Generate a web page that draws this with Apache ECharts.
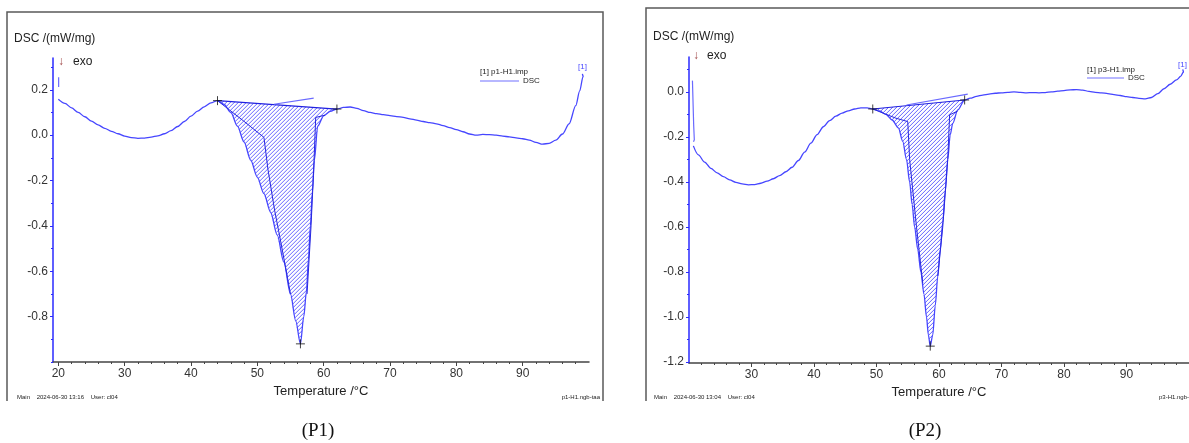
<!DOCTYPE html>
<html><head><meta charset="utf-8">
<script src="https://cdn.jsdelivr.net/npm/echarts@6/dist/echarts.min.js"></script>
<style>html,body{margin:0;padding:0;background:#fff}#c{width:1189px;height:443px}</style>
</head><body><div id="c"></div>
<script>
// ---------------- DATA ----------------
// P1 : DSC curve (Temperature °C, DSC mW/mg)
const p1Curve = [[20.0,0.158],[21,0.140],[22,0.120],[23,0.100],[24,0.081],[25,0.062],[26,0.045],[27,0.030],[28,0.017],[29,0.006],[30,-0.004],[31,-0.011],[32,-0.014],[33,-0.013],[34,-0.009],[35,-0.003],[36,0.006],[37,0.020],[38,0.038],[39,0.060],[40,0.084],[41,0.106],[42,0.125],[43,0.142],[44.0,0.152],[45.0,0.135],[46.0,0.100],[47.0,0.040],[48.0,-0.030],[49.0,-0.110],[50.0,-0.185],[51.0,-0.258],[52.0,-0.340],[53.0,-0.440],[54.0,-0.560],[55.0,-0.700],[55.8,-0.820],[56.5,-0.920],[57.0,-0.800],[57.4,-0.690],[57.7,-0.550],[58.0,-0.400],[58.3,-0.250],[58.6,-0.110],[59.1,0.040],[60.0,0.085],[61.0,0.105],[62.0,0.115],[63,0.122],[64,0.124],[65,0.118],[66,0.108],[67,0.100],[68,0.095],[69,0.090],[70,0.086],[71,0.082],[72,0.078],[73,0.072],[74,0.066],[75,0.060],[76,0.055],[77,0.050],[78,0.042],[79,0.033],[80,0.024],[81,0.015],[82,0.005],[83,0.000],[84,0.003],[85,0.002],[86,0.000],[87,-0.004],[88,-0.008],[89,-0.012],[90,-0.016],[91,-0.022],[92,-0.032],[93,-0.040],[94,-0.036],[95,-0.022],[96,0.005],[97,0.050],[98,0.130],[98.6,0.195],[99.1,0.258],[99.0,0.270]];
const p1StartMark = [[20.05,0.212],[20.05,0.255]];
const p1Onset = [44.0,0.152];
const p1Endset = [62.0,0.115];
const p1Peak = [56.5,-0.920];
const p1InnerLeft = [[44.0,0.152],[47.9,0.063],[51.0,-0.010],[51.6,-0.150],[52.6,-0.330],[53.6,-0.480],[55.0,-0.700]];
const p1InnerRight = [[60.2,0.088],[58.8,0.078],[58.5,-0.150],[58.1,-0.400],[57.5,-0.700]];
const p1Tangent = [[52.5,0.136],[58.5,0.163]];

// P2 : DSC curve
const p2Curve = [[20.7,-0.240],[21.5,-0.280],[22.5,-0.312],[23.5,-0.340],[24.5,-0.360],[25.5,-0.377],[26.5,-0.391],[27.5,-0.402],[28.5,-0.409],[29.5,-0.413],[30.5,-0.412],[31.5,-0.406],[32.5,-0.397],[33.5,-0.386],[34.5,-0.372],[35.5,-0.355],[36.5,-0.335],[37.5,-0.305],[38.5,-0.268],[39.5,-0.228],[40.5,-0.190],[41.5,-0.155],[42.5,-0.128],[43.5,-0.108],[44.5,-0.094],[45.5,-0.084],[46.5,-0.076],[47.5,-0.071],[48.5,-0.071],[49.4,-0.076],[50.5,-0.085],[51.5,-0.100],[52.5,-0.125],[53.5,-0.160],[54.2,-0.220],[54.8,-0.300],[55.3,-0.400],[55.7,-0.500],[56.1,-0.600],[56.6,-0.700],[57.1,-0.800],[57.6,-0.900],[58.0,-1.000],[58.3,-1.080],[58.6,-1.130],[59.0,-1.080],[59.4,-0.950],[59.8,-0.820],[60.2,-0.700],[60.6,-0.580],[61.0,-0.440],[61.4,-0.300],[61.8,-0.190],[62.2,-0.140],[63.0,-0.080],[64.1,-0.036],[65,-0.028],[66,-0.020],[67,-0.014],[68,-0.010],[69,-0.006],[70,-0.004],[71,-0.002],[72,0.000],[73,-0.002],[74,-0.004],[75,-0.003],[76,-0.004],[77,-0.003],[78,0.000],[79,0.003],[80,0.006],[81,0.009],[82,0.010],[83,0.008],[84,0.002],[85,-0.002],[86,-0.004],[87,-0.008],[88,-0.012],[89,-0.016],[90,-0.021],[91,-0.025],[92,-0.029],[93,-0.031],[94,-0.025],[95,-0.008],[96,0.014],[97,0.034],[98,0.053],[98.7,0.070],[99.1,0.088],[99.0,0.100]];
const p2StartMark = [[20.55,0.050],[20.75,-0.150],[20.85,-0.213],[20.72,-0.222]];
const p2Onset = [49.4,-0.076];
const p2Endset = [64.1,-0.036];
const p2Peak = [58.6,-1.130];
const p2InnerLeft = [[49.4,-0.076],[53.1,-0.117],[55.0,-0.132],[55.3,-0.300],[56.4,-0.600],[57.4,-0.850]];
const p2InnerRight = [[63.0,-0.085],[61.7,-0.102],[61.4,-0.300],[60.6,-0.600],[59.8,-0.820]];
const p2Tangent = [[54.8,-0.058],[64.6,-0.010]];

// Tick labels
const p1XTicks = [20,30,40,50,60,70,80,90];
const p1YTicks = [-0.8,-0.6,-0.4,-0.2,0.0,0.2];
const p2XTicks = [30,40,50,60,70,80,90];
const p2YTicks = [-1.2,-1.0,-0.8,-0.6,-0.4,-0.2,0.0];

// ---------------- CHART ----------------
const chart = echarts.init(document.getElementById('c'), null, {renderer:'canvas'});

function minorList(a, b, step) { const r = []; for (let v = a; v <= b + 1e-9; v += step) r.push(Math.round(v*100)/100); return r; }

// "/" hatch segments inside the region between curve and baseline, returned in data units
// (kx, ky: pixels per data unit, so that lines are at 45° on screen), separated by gaps.
function hatchData(poly, kx, ky, step) {
  const pts = poly.map(d => [d[0]*kx, -d[1]*ky]);
  let lo = Infinity, hi = -Infinity;
  pts.forEach(p => { const s = p[0] + p[1]; lo = Math.min(lo, s); hi = Math.max(hi, s); });
  const out = [];
  for (let c = Math.ceil(lo / step) * step; c <= hi; c += step) {
    const xs = [];
    for (let k = 0; k < pts.length; k++) {
      const a = pts[k], b = pts[(k + 1) % pts.length];
      const s1 = a[0] + a[1] - c, s2 = b[0] + b[1] - c;
      if ((s1 < 0) !== (s2 < 0)) {
        const t = s1 / (s1 - s2);
        xs.push([a[0] + t*(b[0]-a[0]), a[1] + t*(b[1]-a[1])]);
      }
    }
    xs.sort((u, v) => u[0] - v[0]);
    for (let k = 0; k + 1 < xs.length; k += 2) {
      out.push([xs[k][0]/kx, -xs[k][1]/ky], [xs[k+1][0]/kx, -xs[k+1][1]/ky], '-');
    }
  }
  return out;
}

const FONT = 'Liberation Sans';
const CURVE = '#4646ff';

const panels = [
  {grid:{left:53, top:58, width:536, height:304}, xmin:19.2, xmax:100, ymin:-1.0, ymax:0.34,
   xt:p1XTicks, yt:p1YTicks, xminor:minorList(20,98,2), yminor:minorList(-1.0,0.3,0.1),
   curve:p1Curve, start:p1StartMark, on:p1Onset, end:p1Endset, pk:p1Peak, il:p1InnerLeft, ir:p1InnerRight, tg:p1Tangent},
  {grid:{left:689, top:57, width:500, height:306}, xmin:20, xmax:100, ymin:-1.205, ymax:0.155,
   xt:p2XTicks, yt:p2YTicks, xminor:minorList(22,98,2), yminor:minorList(-1.2,0.1,0.1),
   curve:p2Curve, start:p2StartMark, on:p2Onset, end:p2Endset, pk:p2Peak, il:p2InnerLeft, ir:p2InnerRight, tg:p2Tangent}
];

const grids = [], xAxes = [], yAxes = [], series = [];
panels.forEach((p, i) => {
  grids.push(p.grid);
  xAxes.push({type:'value', gridIndex:i, min:p.xmin, max:p.xmax, position:'bottom',
    name:'Temperature /°C', nameLocation:'middle', nameGap:17,
    nameTextStyle:{fontFamily:FONT, fontSize:13, color:'#222'},
    axisLine:{show:true, onZero:false, lineStyle:{color:'#444', width:1.5}},
    axisTick:{show:true, inside:false, length:4, customValues:p.xt, lineStyle:{color:'#444'}},
    axisLabel:{show:true, customValues:p.xt, margin:6, fontFamily:FONT, fontSize:12, color:'#333'},
    splitLine:{show:false}});
  xAxes.push({type:'value', gridIndex:i, min:p.xmin, max:p.xmax, position:'bottom',
    axisLine:{show:false, onZero:false}, axisLabel:{show:false}, splitLine:{show:false},
    axisTick:{show:true, length:2, customValues:p.xminor, lineStyle:{color:'#444'}}});
  yAxes.push({type:'value', gridIndex:i, min:p.ymin, max:p.ymax, position:'left',
    axisLine:{show:true, onZero:false, lineStyle:{color:'#2a2aff', width:1.5}},
    axisTick:{show:true, length:3, customValues:p.yt, lineStyle:{color:'#2a2aff'}},
    axisLabel:{show:true, customValues:p.yt, margin:5, fontFamily:FONT, fontSize:12, color:'#333',
      formatter: v => v.toFixed(1)},
    splitLine:{show:false}});
  yAxes.push({type:'value', gridIndex:i, min:p.ymin, max:p.ymax, position:'left',
    axisLine:{show:false, onZero:false}, axisLabel:{show:false}, splitLine:{show:false},
    axisTick:{show:true, length:2, customValues:p.yminor, lineStyle:{color:'#2a2aff'}}});

  const xi = 2*i, yi = 2*i;
  const poly = p.curve.filter(d => d[0] >= p.on[0] - 1e-9 && d[0] <= p.end[0] + 1e-9);
  const kx = p.grid.width / (p.xmax - p.xmin), ky = p.grid.height / (p.ymax - p.ymin);
  series.push({type:'line', xAxisIndex:xi, yAxisIndex:yi, data:hatchData(poly, kx, ky, 4),
    showSymbol:false, connectNulls:false, silent:true, sampling:null,
    lineStyle:{color:'#4848ff', width:0.85}, z:1});
  series.push({type:'line', xAxisIndex:xi, yAxisIndex:yi, data:p.curve, showSymbol:false, smooth:0.3, smoothMonotone:'x',
    lineStyle:{color:CURVE, width:1.3}, z:3});
  series.push({type:'line', xAxisIndex:xi, yAxisIndex:yi, data:p.start, showSymbol:false,
    lineStyle:{color:'#6a6aff', width:1.2}, z:3});
  series.push({type:'line', xAxisIndex:xi, yAxisIndex:yi, data:[p.on, p.end], showSymbol:false,
    lineStyle:{color:'#2020e0', width:1.2}, z:3});
  series.push({type:'line', xAxisIndex:xi, yAxisIndex:yi, data:p.il, showSymbol:false,
    lineStyle:{color:'#2828e0', width:1}, z:3});
  series.push({type:'line', xAxisIndex:xi, yAxisIndex:yi, data:p.ir, showSymbol:false,
    lineStyle:{color:'#2828e0', width:1}, z:3});
  series.push({type:'line', xAxisIndex:xi, yAxisIndex:yi, data:p.tg, showSymbol:false,
    lineStyle:{color:'#6a6aff', width:1.1}, z:3});
  series.push({type:'scatter', xAxisIndex:xi, yAxisIndex:yi, data:[p.on, p.end, p.pk],
    symbol:'path://M0,5L10,5M5,0L5,10', symbolSize:9,
    itemStyle:{color:'rgba(0,0,0,0)', borderColor:'#111', borderWidth:1}, z:5});
});

function txt(x, y, s, size, opts) {
  return Object.assign({type:'text', x:x, y:y, style:Object.assign({text:s, fontFamily:FONT, fontSize:size, fill:'#222', textVerticalAlign:'middle'}, opts||{})});
}

const graphic = [
  {type:'polyline', shape:{points:[[7,401],[7,12],[603,12],[603,401]]}, style:{stroke:'#5a5a5a', lineWidth:1.5, fill:null}},
  {type:'polyline', shape:{points:[[646,401],[646,8],[1195,8]]}, style:{stroke:'#5a5a5a', lineWidth:1.5, fill:null}},
  txt(14, 39, 'DSC /(mW/mg)', 12),
  txt(58, 62, '↓', 12, {fill:'#a04848'}),
  txt(73, 62, 'exo', 12),
  txt(653, 37, 'DSC /(mW/mg)', 12),
  txt(693, 56, '↓', 12, {fill:'#a04848'}),
  txt(707, 56, 'exo', 12),
  txt(480, 72, '[1] p1-H1.imp', 8),
  {type:'line', shape:{x1:480, y1:81, x2:519, y2:81}, style:{stroke:'#7070ff', lineWidth:1.2}},
  txt(523, 81, 'DSC', 8),
  txt(578, 67, '[1]', 8, {fill:'#4a4aff'}),
  txt(1087, 70, '[1] p3-H1.imp', 8),
  {type:'line', shape:{x1:1087, y1:78, x2:1124, y2:78}, style:{stroke:'#7070ff', lineWidth:1.2}},
  txt(1128, 78, 'DSC', 8),
  txt(1178, 65, '[1]', 8, {fill:'#4a4aff'}),
  txt(17, 397, 'Main    2024-06-30 13:16    User: cl04', 6),
  txt(600, 397, 'p1-H1.ngb-taa', 6, {textAlign:'right'}),
  txt(654, 397, 'Main    2024-06-30 13:04    User: cl04', 6),
  txt(1159, 397, 'p3-H1.ngb-ta', 6),
  txt(318, 431, '(P1)', 19, {fontFamily:'Liberation Serif', textAlign:'center', fill:'#111'}),
  txt(925, 431, '(P2)', 19, {fontFamily:'Liberation Serif', textAlign:'center', fill:'#111'})
];

chart.setOption({animation:false, backgroundColor:'#fff', grid:grids, xAxis:xAxes, yAxis:yAxes, series:series, graphic:graphic});
</script>
</body></html>
